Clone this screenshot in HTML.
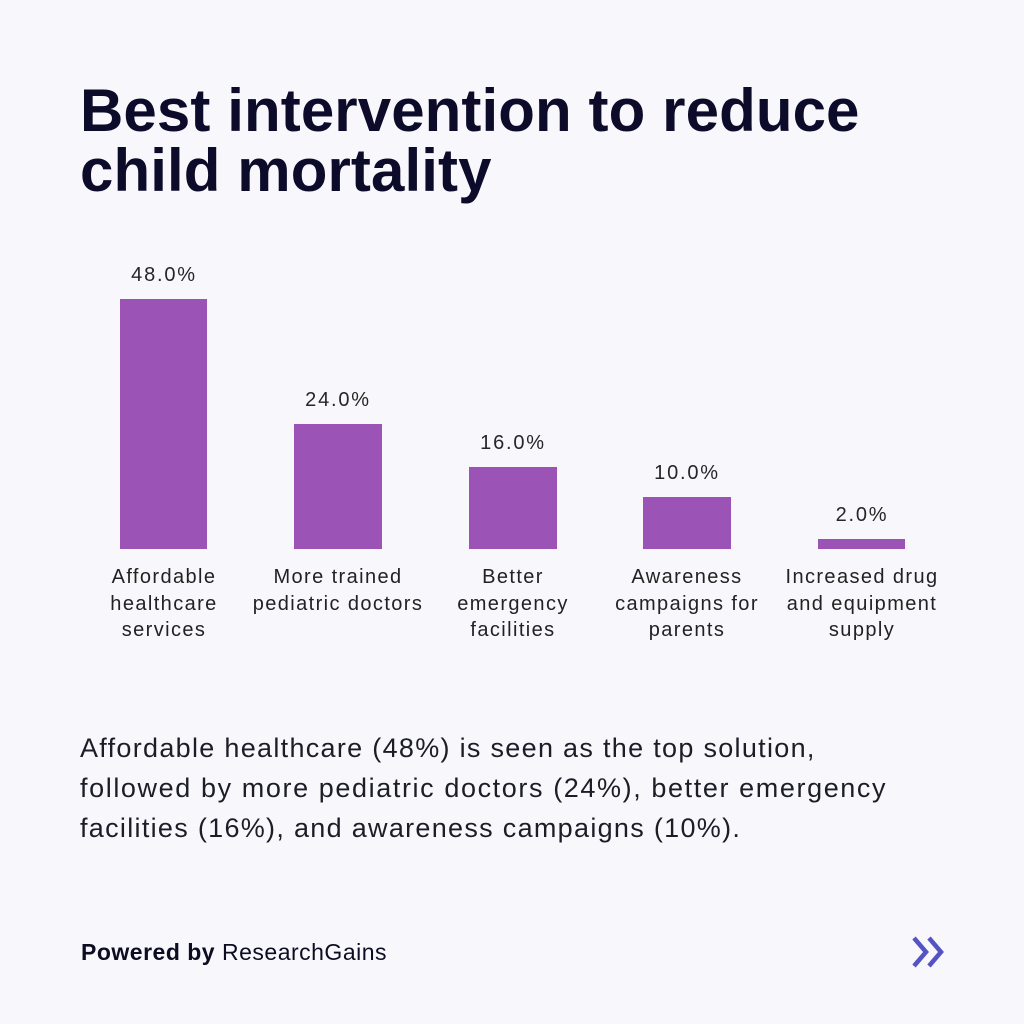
<!DOCTYPE html>
<html>
<head>
<meta charset="utf-8">
<style>
  html, body { margin:0; padding:0; }
  body { width:1024px; height:1024px; background:#f8f8fc; position:relative; overflow:hidden; font-family:"Liberation Sans", Arial, sans-serif; }
  .title { position:absolute; left:80px; top:81px; font-size:60px; line-height:60px; font-weight:bold; color:#0c0b2a; white-space:nowrap; letter-spacing:0.1px; }
  .bar { position:absolute; background:#9b54b6; }
  .val { position:absolute; width:200px; text-align:center; font-size:20px; line-height:20px; color:#262626; letter-spacing:1.8px; white-space:nowrap; }
  .cat { position:absolute; width:220px; text-align:center; font-size:20px; line-height:26.5px; color:#222; letter-spacing:1.4px; white-space:nowrap; top:564px; }
  .body { position:absolute; left:80px; top:728px; font-size:27px; line-height:40px; color:#1d1d28; letter-spacing:1.3px; white-space:nowrap; }
  .foot { position:absolute; left:81px; top:941px; font-size:23px; line-height:23px; color:#0d0c22; letter-spacing:0.5px; white-space:nowrap; }
  .foot b { font-weight:bold; }
</style>
</head>
<body>
  <div class="title">Best intervention to reduce<br>child mortality</div>

  <div class="bar" style="left:120px; top:299px; width:87px; height:250px;"></div>
  <div class="bar" style="left:294px; top:424px; width:88px; height:125px;"></div>
  <div class="bar" style="left:469px; top:467px; width:88px; height:82px;"></div>
  <div class="bar" style="left:643px; top:497px; width:88px; height:52px;"></div>
  <div class="bar" style="left:818px; top:539px; width:87px; height:10px;"></div>

  <div class="val" style="left:64px; top:265px;">48.0%</div>
  <div class="val" style="left:238px; top:390px;">24.0%</div>
  <div class="val" style="left:413px; top:433px;">16.0%</div>
  <div class="val" style="left:587px; top:463px;">10.0%</div>
  <div class="val" style="left:762px; top:505px;">2.0%</div>

  <div class="cat" style="left:54px;">Affordable<br>healthcare<br>services</div>
  <div class="cat" style="left:228px;">More trained<br>pediatric doctors</div>
  <div class="cat" style="left:403px;">Better<br>emergency<br>facilities</div>
  <div class="cat" style="left:577px;">Awareness<br>campaigns for<br>parents</div>
  <div class="cat" style="left:752px;">Increased drug<br>and equipment<br>supply</div>

  <div class="body">Affordable healthcare (48%) is seen as the top solution,<br><span style="letter-spacing:1.6px">followed by more pediatric doctors (24%), better emergency</span><br>facilities (16%), and awareness campaigns (10%).</div>

  <div class="foot"><b>Powered by</b> ResearchGains</div>

  <svg style="position:absolute; left:909px; top:934px;" width="40" height="36" viewBox="0 0 40 36">
    <polyline points="5,4 17,18 5,32" fill="none" stroke="#5553c4" stroke-width="4.5" stroke-linejoin="miter" stroke-linecap="butt"/>
    <polyline points="20,4 32,18 20,32" fill="none" stroke="#5553c4" stroke-width="4.5" stroke-linejoin="miter" stroke-linecap="butt"/>
  </svg>
</body>
</html>
